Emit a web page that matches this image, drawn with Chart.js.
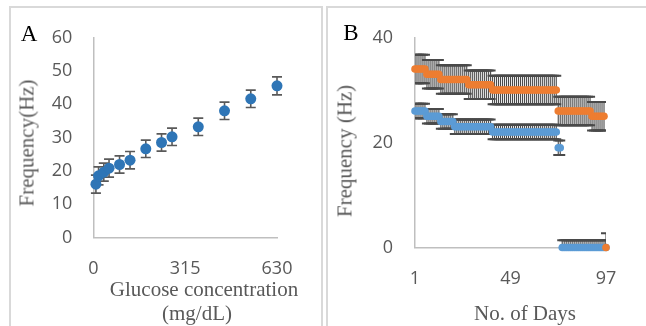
<!DOCTYPE html>
<html>
<head>
<meta charset="utf-8">
<script src="https://cdn.jsdelivr.net/npm/chart.js@4.4.0/dist/chart.umd.min.js"></script>
<style>
  body { margin: 0; width: 646px; height: 326px; overflow: hidden; background: #fff; position: relative; }
  .frame { position: absolute; top: 6px; height: 340px; border: 2px solid #d9d9d9; border-bottom: none; }
  canvas { position: absolute; top: 0; }
  .txt { position: absolute; transform: translate(-50%, -50%); white-space: nowrap; line-height: 1;
         font-family: "Liberation Serif", "Times New Roman", serif; font-size: 21px; color: #595959; }
  .rot { transform: translate(-50%, -50%) rotate(-90deg); }
  .letter { font-size: 23px; color: #000; }
</style>
</head>
<body>
<div class="frame" style="left:9px;width:310px;"></div>
<div class="frame" style="left:326px;width:400px;"></div>
<canvas id="chartA" width="323" height="326" style="left:0"></canvas>
<canvas id="chartB" width="321" height="326" style="left:325px"></canvas>

<div class="txt letter" style="left:29px;top:33px;">A</div>
<div class="txt letter" style="left:351px;top:32px;">B</div>
<div class="txt rot" style="left:27px;top:143px;">Frequency(Hz)</div>
<div class="txt rot" style="left:345px;top:151px;">Frequency (Hz)</div>
<div class="txt" style="left:204px;top:289px;">Glucose concentration</div>
<div class="txt" style="left:197px;top:313px;">(mg/dL)</div>
<div class="txt" style="left:525px;top:313px;">No. of Days</div>

<script>
// Panel A: frequency vs glucose concentration
const glucose = [9, 18, 36, 54, 90, 126, 180, 234, 270, 360, 450, 540, 630];
const freqA = [16.0, 18.5, 19.6, 20.8, 21.9, 23.2, 26.6, 28.5, 30.2, 33.2, 38.0, 41.6, 45.5];
const errA = [2.7, 2.7, 2.7, 2.7, 2.6, 2.6, 2.6, 2.6, 2.6, 2.6, 2.6, 2.6, 2.7];
const xTicksA = [0, 315, 630];
const yTicksA = [0, 10, 20, 30, 40, 50, 60];

// Panel B: frequency over days 1..97
const freqBlue = [
  26, 26, 26, 26, 26, 26,
  25, 25, 25, 25, 25, 25, 25,
  24, 24, 24, 24, 24, 24, 24,
  23, 23, 23, 23, 23, 23, 23, 23, 23, 23,
  23, 23, 23, 23, 23, 23, 23, 23, 23,
  22, 22, 22, 22, 22, 22, 22, 22, 22, 22,
  22, 22, 22, 22, 22, 22, 22, 22, 22, 22,
  22, 22, 22, 22, 22, 22, 22, 22, 22, 22,
  22, 22, 22,
  19, 19,
  0, 0, 0, 0, 0, 0, 0, 0, 0, 0,
  0, 0, 0, 0, 0, 0, 0, 0, 0, 0,
  0, 0, 0
];
const freqOrange = [
  34, 34, 34, 34, 34, 34,
  33, 33, 33, 33, 33, 33, 33,
  32, 32, 32, 32, 32, 32, 32, 32, 32, 32, 32, 32, 32, 32,
  31, 31, 31, 31, 31, 31, 31, 31, 31, 31, 31, 31,
  30, 30, 30, 30, 30, 30, 30, 30, 30, 30,
  30, 30, 30, 30, 30, 30, 30, 30, 30, 30,
  30, 30, 30, 30, 30, 30, 30, 30, 30, 30,
  30, 30, 30,
  26, 26, 26, 26, 26, 26, 26, 26, 26, 26,
  26, 26, 26, 26, 26, 26, 26,
  25, 25, 25, 25, 25, 25, 25,
  0
];
const errBlue = 1.4;
const errOrange = 2.7;
const xTicksB = [1, 49, 97];
const yTicksB = [0, 20, 40];

const tickFont = { family: "'Open Sans', sans-serif", size: 18, lineHeight: 1.2 };
const tickColor = "#595959";
const axisColor = "#bfbfbf";

// draws vertical error bars under each dataset's points
const errorBars = {
  id: "errorBars",
  beforeDatasetDraw(chart, args, opts) {
    const ds = chart.data.datasets[args.index];
    if (ds.errors === undefined) return;
    const ctx = chart.ctx;
    const y = chart.scales.y;
    const area = chart.chartArea;
    ctx.save();
    if (opts.clip) {
      ctx.beginPath();
      ctx.rect(area.left, area.top, area.right - area.left, area.bottom - area.top);
      ctx.clip();
    }
    ctx.strokeStyle = opts.color;
    args.meta.data.forEach((pt, i) => {
      const v = ds.data[i].y;
      const e = Array.isArray(ds.errors) ? ds.errors[i] : ds.errors;
      const top = y.getPixelForValue(v + e);
      const bot = y.getPixelForValue(v - e);
      ctx.lineWidth = opts.width;
      ctx.beginPath();
      ctx.moveTo(pt.x, top);
      ctx.lineTo(pt.x, bot);
      ctx.stroke();
      ctx.lineWidth = opts.capWidth;
      ctx.beginPath();
      ctx.moveTo(pt.x - opts.cap, top);
      ctx.lineTo(pt.x + opts.cap, top);
      ctx.moveTo(pt.x - opts.cap, bot);
      ctx.lineTo(pt.x + opts.cap, bot);
      ctx.stroke();
    });
    ctx.restore();
  }
};

function fixedTicks(values) {
  return (scale) => { scale.ticks = values.map((v) => ({ value: v })); };
}

const noGrid = { display: false, drawTicks: false };

new Chart(document.getElementById("chartA"), {
  type: "scatter",
  plugins: [errorBars],
  data: {
    datasets: [{
      data: glucose.map((g, i) => ({ x: g, y: freqA[i] })),
      errors: errA,
      backgroundColor: "#2E75B6",
      pointRadius: 5.5,
      pointBorderWidth: 0,
      clip: false
    }]
  },
  options: {
    responsive: false,
    animation: false,
    devicePixelRatio: 1,
    layout: { padding: { left: 0, top: 37.5, right: 46, bottom: 28.5 } },
    plugins: {
      legend: { display: false },
      tooltip: { enabled: false },
      errorBars: { color: "#595959", width: 1.6, capWidth: 1.6, cap: 5, clip: false }
    },
    scales: {
      x: {
        type: "linear", min: 0, max: 630,
        afterBuildTicks: fixedTicks(xTicksA),
        afterFit: (s) => { s.height = 60; },
        grid: noGrid,
        border: { display: true, color: axisColor, width: 1.5 },
        ticks: { font: tickFont, color: tickColor, padding: 21, maxRotation: 0 }
      },
      y: {
        type: "linear", min: 0, max: 60,
        afterBuildTicks: fixedTicks(yTicksA),
        afterFit: (s) => { s.width = 93.3; },
        grid: noGrid,
        border: { display: true, color: axisColor, width: 1.5 },
        ticks: { font: tickFont, color: tickColor, padding: 21 }
      }
    }
  }
});

new Chart(document.getElementById("chartB"), {
  type: "scatter",
  plugins: [errorBars],
  data: {
    datasets: [
      {
        data: freqBlue.map((v, i) => ({ x: i + 1, y: v })),
        errors: errBlue,
        backgroundColor: "#5B9BD5",
        pointRadius: 3.8,
        pointBorderWidth: 0,
        clip: false,
        order: 2
      },
      {
        data: freqOrange.map((v, i) => ({ x: i + 1, y: v })),
        errors: errOrange,
        backgroundColor: "#ED7D31",
        pointRadius: 3.8,
        pointBorderWidth: 0,
        clip: false,
        order: 1
      }
    ]
  },
  options: {
    responsive: false,
    animation: false,
    devicePixelRatio: 1,
    layout: { padding: { left: 0, top: 37.5, right: 40, bottom: 18.5 } },
    plugins: {
      legend: { display: false },
      tooltip: { enabled: false },
      errorBars: { color: "#4a4a4a", width: 1.1, capWidth: 2, cap: 5, clip: true }
    },
    scales: {
      x: {
        type: "linear", min: 1, max: 97,
        afterBuildTicks: fixedTicks(xTicksB),
        afterFit: (s) => { s.height = 60; },
        grid: noGrid,
        border: { display: true, color: axisColor, width: 1.5 },
        ticks: { font: tickFont, color: tickColor, padding: 21, maxRotation: 0 }
      },
      y: {
        type: "linear", min: 0, max: 40,
        afterBuildTicks: fixedTicks(yTicksB),
        afterFit: (s) => { s.width = 90; },
        grid: noGrid,
        border: { display: true, color: axisColor, width: 1.5 },
        ticks: { font: tickFont, color: tickColor, padding: 22 }
      }
    }
  }
});
</script>
</body>
</html>
